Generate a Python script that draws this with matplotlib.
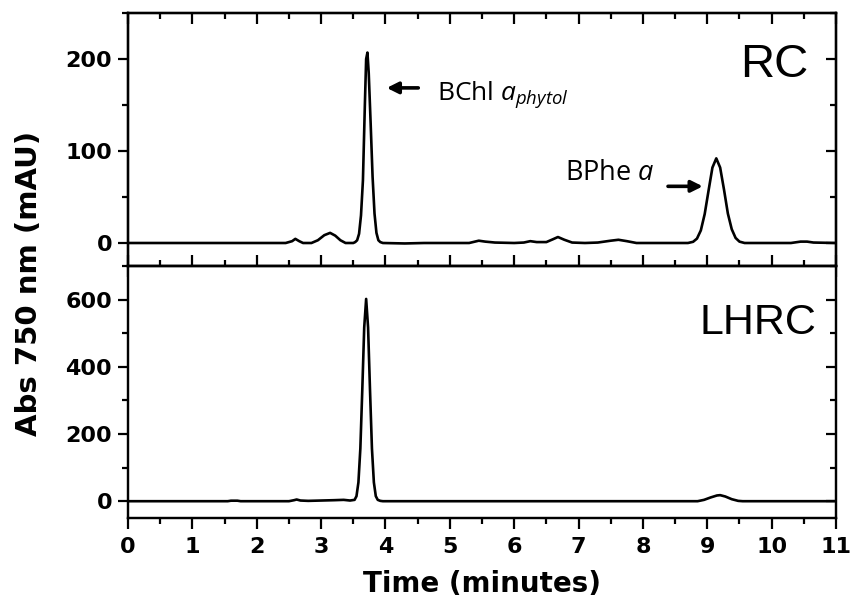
import matplotlib
matplotlib.use("Agg")
import matplotlib.pyplot as plt
from matplotlib.ticker import MultipleLocator
from matplotlib.font_manager import FontProperties

# ---- data ----
rc_time = [0.0, 2.45, 2.55, 2.60, 2.66, 2.72, 2.85, 2.95, 3.05, 3.14, 3.22, 3.30, 3.38, 3.46,
           3.50, 3.53, 3.56, 3.59, 3.62, 3.65, 3.68, 3.70, 3.72, 3.74, 3.77, 3.80, 3.83, 3.86,
           3.89, 3.92, 3.96, 4.30, 4.60, 5.30, 5.45, 5.55, 5.70, 6.00, 6.15, 6.25, 6.35, 6.50,
           6.60, 6.68, 6.78, 6.90, 7.10, 7.30, 7.50, 7.62, 7.75, 7.90, 8.70, 8.78, 8.84, 8.90,
           8.96, 9.02, 9.08, 9.14, 9.20, 9.26, 9.32, 9.38, 9.44, 9.50, 9.58, 10.30, 10.45,
           10.55, 10.65, 11.0]
rc_abs = [0.0, 0.0, 2.0, 4.5, 2.0, 0.0, 0.0, 3.0, 8.5, 11.0, 8.0, 3.0, 0.0, 0.0,
          0.0, 1.0, 3.0, 10.0, 30.0, 68.0, 150.0, 200.0, 207.0, 185.0, 130.0, 72.0, 32.0, 11.0,
          3.0, 1.0, 0.0, -0.5, 0.0, 0.0, 2.5, 1.5, 0.5, 0.0, 0.5, 2.0, 1.0, 1.0,
          4.0, 6.5, 3.5, 0.5, 0.0, 0.5, 2.5, 3.5, 2.0, 0.0, 0.0, 1.3, 4.8, 13.7,
          31.5, 57.0, 82.0, 92.0, 82.0, 58.0, 32.0, 15.0, 5.5, 1.5, 0.0, 0.0, 1.5,
          1.5, 0.5, 0.0]

lhrc_time = [0.0, 1.55, 1.60, 1.70, 1.75, 2.50, 2.58, 2.62, 2.68, 2.80, 3.00, 3.20, 3.35,
             3.45, 3.52, 3.55, 3.58, 3.61, 3.64, 3.67, 3.70, 3.73, 3.76, 3.79, 3.82, 3.85,
             3.88, 3.92, 3.96, 4.30, 8.85, 8.95, 9.05, 9.15, 9.20, 9.28, 9.38, 9.48, 9.55, 11.0]
lhrc_abs = [0.0, 0.0, 1.5, 1.5, 0.0, 0.0, 3.0, 5.0, 2.0, 1.0, 2.0, 3.0, 4.0,
            2.0, 4.0, 15.0, 56.0, 157.0, 331.0, 517.0, 602.0, 517.0, 331.0, 157.0, 56.0, 15.0,
            4.0, 1.0, 0.0, 0.0, 0.0, 4.0, 11.0, 17.0, 18.0, 14.0, 6.0, 1.0, 0.0, 0.0]

x_ticks = [0, 1, 2, 3, 4, 5, 6, 7, 8, 9, 10, 11]
rc_yticks = [0, 100, 200]
lhrc_yticks = [0, 200, 400, 600]

# ---- figure ----
W, H = 854, 601
fig = plt.figure(figsize=(W / 100, H / 100), dpi=100)

def fx(px):
    return px / W

def fy(py):
    return 1 - py / H

left, right = 128, 836
ax1 = fig.add_axes([fx(left), fy(266), fx(right - left), fy(13) - fy(266)])
ax2 = fig.add_axes([fx(left), fy(518), fx(right - left), fy(266) - fy(518)])

tick_fp = FontProperties(family="DejaVu Sans", weight="bold", size=16)
lw_axis = 1.6

ax1.plot(rc_time, rc_abs, color="black", lw=1.9)
ax2.plot(lhrc_time, lhrc_abs, color="black", lw=1.9)

ax1.set_ylim(-25, 250)
ax1.set_yticks(rc_yticks)
ax1.yaxis.set_minor_locator(MultipleLocator(50))
ax2.set_ylim(-50, 700)
ax2.set_yticks(lhrc_yticks)
ax2.yaxis.set_minor_locator(MultipleLocator(100))

for ax in (ax1, ax2):
    for s in ax.spines.values():
        s.set_linewidth(lw_axis)
    ax.set_xlim(0, 11)
    ax.set_xticks(x_ticks)
    ax.xaxis.set_minor_locator(MultipleLocator(0.5))
    # left: outward ticks
    ax.tick_params(axis="y", which="both", left=True, right=False, direction="out",
                   width=lw_axis, pad=4)
    ax.tick_params(axis="y", which="major", length=7.5)
    ax.tick_params(axis="y", which="minor", length=4)
    for lab in ax.get_yticklabels():
        lab.set_fontproperties(tick_fp)
    # right: inward ticks via twin axes
    axr = ax.twinx()
    axr.set_ylim(ax.get_ylim())
    axr.set_yticks(ax.get_yticks())
    axr.yaxis.set_minor_locator(MultipleLocator(ax.yaxis.get_minor_locator()._edge.step))
    axr.tick_params(axis="y", which="both", direction="in", labelright=False, width=lw_axis)
    axr.tick_params(axis="y", which="major", length=7.5)
    axr.tick_params(axis="y", which="minor", length=4.5)
    for s in axr.spines.values():
        s.set_linewidth(lw_axis)

# top panel: x ticks crossing the shared boundary, inward ticks on top spine
ax1.tick_params(axis="x", which="both", bottom=True, top=False, labelbottom=False,
                direction="inout", width=lw_axis)
ax1.tick_params(axis="x", which="major", length=16)
ax1.tick_params(axis="x", which="minor", length=8.5)
ax1t = ax1.twiny()
ax1t.set_xlim(0, 11)
ax1t.set_xticks(x_ticks)
ax1t.xaxis.set_minor_locator(MultipleLocator(0.5))
ax1t.tick_params(axis="x", which="both", direction="in", labeltop=False, width=lw_axis)
ax1t.tick_params(axis="x", which="major", length=8)
ax1t.tick_params(axis="x", which="minor", length=4.5)
for s in ax1t.spines.values():
    s.set_linewidth(lw_axis)

# bottom panel x axis
ax2.tick_params(axis="x", which="both", top=False, bottom=True, direction="out",
                width=lw_axis, pad=6)
ax2.tick_params(axis="x", which="major", length=8)
ax2.tick_params(axis="x", which="minor", length=4.5)
for lab in ax2.get_xticklabels():
    lab.set_fontproperties(tick_fp)

# axis labels
fig.text(fx(482), fy(592), "Time (minutes)", ha="center", va="baseline",
         family="DejaVu Sans", weight="bold", size=20)
fig.text(fx(29), fy(283), "Abs 750 nm (mAU)", ha="center", va="center", rotation=90,
         family="DejaVu Sans", weight="bold", size=21)

# panel names
fig.text(fx(808), fy(77), "RC", ha="right", va="baseline", family="Liberation Sans", size=34)
fig.text(fx(816), fy(334), "LHRC", ha="right", va="baseline", family="Liberation Sans", size=31)

# annotations
plt.rcParams["mathtext.fontset"] = "custom"
plt.rcParams["mathtext.rm"] = "Open Sans"
plt.rcParams["mathtext.it"] = "Open Sans:italic"
ax1.text(4.80, 155.7, r"BChl $a_{phytol}$", family="Open Sans", size=19, va="baseline")
ax1.text(6.79, 69, r"BPhe $a$", family="Open Sans", size=19.5, va="baseline")
arrow = dict(arrowstyle="-|>", lw=2.6, color="black", mutation_scale=17, shrinkA=0, shrinkB=0)
ax1.annotate("", xy=(4.02, 168.6), xytext=(4.51, 168.6), arrowprops=arrow)
ax1.annotate("", xy=(8.93, 61.6), xytext=(8.39, 61.6), arrowprops=arrow)

fig.savefig("out.png", dpi=100)
